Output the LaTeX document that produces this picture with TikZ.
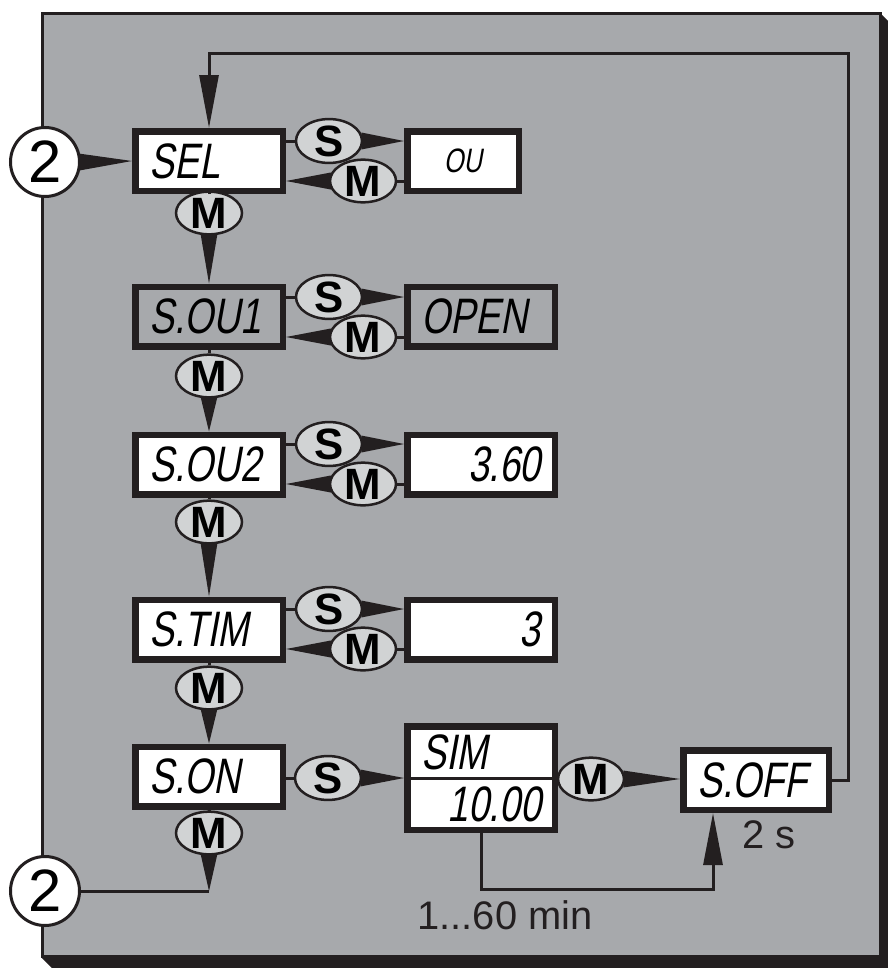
\documentclass[tikz,border=0pt]{standalone}
\usepackage{fontspec}
\setmainfont{Liberation Sans}
\newfontfamily\lcdfont[FakeStretch=0.75,FakeSlant=0.18]{Liberation Sans}
\usepackage{tikz}
\usetikzlibrary{arrows.meta,shapes.geometric,calc}
\definecolor{ink}{HTML}{231F20}
\definecolor{panel}{HTML}{A7A9AC}
\definecolor{keyfill}{HTML}{D1D3D4}

% wedge: base at first point, tip at second
\newcommand{\wedgeto}[2]{%
  \path ($(#1)!-2bp!(#2)$) coordinate (wb);
  \fill[ink] ($(wb)!8.5bp!90:(#2)$) -- (#2) -- ($(wb)!8.5bp!-90:(#2)$) -- cycle;}

\begin{document}
\begin{tikzpicture}[
  box/.style={draw=ink,line width=6.5bp,fill=white,minimum height=59.5bp,inner xsep=14bp,inner ysep=0pt,
    text width=119.5bp,align=left,font=\lcdfont\fontsize{50}{50}\selectfont},
  key/.style={ellipse,draw=ink,line width=2.5bp,fill=keyfill,minimum width=66bp,minimum height=41bp,
    inner sep=0pt,font=\bfseries\fontsize{44}{44}\selectfont},
  link/.style={draw=ink,line width=3bp},
  jump/.style={circle,draw=ink,line width=3bp,fill=white,minimum size=69bp,inner sep=0pt,
    font=\fontsize{60}{60}\selectfont},
  note/.style={font=\fontsize{40}{40}\selectfont,text=ink,inner sep=0pt},
  tip/.style={-{Triangle[length=#1,width=19bp]}},
]
\useasboundingbox (0bp,0bp) rectangle (888bp,-968bp);

% frame with shadow
\fill[ink] (42bp,-13bp) -- (880bp,-13bp) -- (888bp,-21bp) -- (888bp,-968bp) -- (52bp,-968bp) -- (42bp,-958bp) -- cycle;
\draw[ink,line width=3bp,fill=panel] (42bp,-13bp) rectangle (880bp,-956bp);

% left column
\node (SEL) at (209bp,-161bp) [box] {SEL};
\node (SOU1) at (209bp,-316.5bp) [box,fill=panel] {S.OU1};
\node (SOU2) at (209bp,-464.5bp) [box] {S.OU2};
\node (STIM) at (209bp,-629.5bp) [box] {S.TIM};
\node (SON) at (209bp,-776.5bp) [box] {S.ON};

% right column
\node (OU) at (463bp,-161bp) [box,text width=83.5bp,align=center,font=\lcdfont\fontsize{34}{34}\selectfont] {OU};
\node (OPEN) at (481bp,-316.5bp) [box,fill=panel] {OPEN};
\node (V360) at (481bp,-464.5bp) [box,align=right] {3.60};
\node (V3) at (481bp,-629.5bp) [box,align=right] {3};
\node (SIM) at (481bp,-778bp) [box,minimum height=103.5bp] {};
\draw[ink,line width=3bp] (SIM.west) -- (SIM.east);
\node (SIMa) at (421bp,-769bp) [anchor=base west,inner sep=0pt,font=\lcdfont\fontsize{50}{50}\selectfont] {SIM};
\node (SIMb) at (541bp,-821bp) [anchor=base east,inner sep=0pt,font=\lcdfont\fontsize{50}{50}\selectfont] {10.00};
\node (SOFF) at (756bp,-780bp) [box,text width=117.5bp] {S.OFF};

% step marks
\node (C2a) at (45bp,-162bp) [jump] {2};
\node (C2b) at (45bp,-891bp) [jump] {2};
\wedgeto{C2a.east}{SEL.west}

% S and M keys between the columns
\node (kS1) at (329bp,-141bp) [key] {S};
\node (kM1) at (363bp,-181bp) [key] {M};
\node (kS2) at (329bp,-297bp) [key] {S};
\node (kM2) at (363bp,-337bp) [key] {M};
\node (kS3) at (329bp,-444bp) [key] {S};
\node (kM3) at (363bp,-484bp) [key] {M};
\node (kS4) at (329bp,-609bp) [key] {S};
\node (kM4) at (363bp,-649bp) [key] {M};
\node (kS5) at (328bp,-778bp) [key] {S};
\node (kM5) at (591bp,-779bp) [key] {M};

\draw[link] (SEL.east |- kS1) -- (kS1);
\draw[link] (OU.west |- kM1) -- (kM1);
\wedgeto{kS1.east}{OU.west |- kS1.east}
\wedgeto{kM1.west}{SEL.east |- kM1.west}
\draw[link] (SOU1.east |- kS2) -- (kS2);
\draw[link] (OPEN.west |- kM2) -- (kM2);
\wedgeto{kS2.east}{OPEN.west |- kS2.east}
\wedgeto{kM2.west}{SOU1.east |- kM2.west}
\draw[link] (SOU2.east |- kS3) -- (kS3);
\draw[link] (V360.west |- kM3) -- (kM3);
\wedgeto{kS3.east}{V360.west |- kS3.east}
\wedgeto{kM3.west}{SOU2.east |- kM3.west}
\draw[link] (STIM.east |- kS4) -- (kS4);
\draw[link] (V3.west |- kM4) -- (kM4);
\wedgeto{kS4.east}{V3.west |- kS4.east}
\wedgeto{kM4.west}{STIM.east |- kM4.west}
\draw[link] (SON.east |- kS5) -- (kS5);
\wedgeto{kS5.east}{SIM.west |- kS5.east}
\draw[link] (SIM.east |- kM5) -- (kM5);
\wedgeto{kM5.east}{SOFF.west |- kM5.east}

% M keys down the left column
\node (kD1) at (209bp,-213bp) [key] {M};
\node (kD2) at (209bp,-376bp) [key] {M};
\node (kD3) at (209bp,-522bp) [key] {M};
\node (kD4) at (209bp,-688bp) [key] {M};
\node (kD5) at (209bp,-833bp) [key] {M};
\draw[link] (SEL) -- (kD1);
\draw[link] (SOU1) -- (kD2);
\draw[link] (SOU2) -- (kD3);
\draw[link] (STIM) -- (kD4);
\draw[link] (SON) -- (kD5);
\wedgeto{kD1.south}{SOU1.north}
\wedgeto{kD2.south}{SOU2.north}
\wedgeto{kD3.south}{STIM.north}
\wedgeto{kD4.south}{SON.north}
\coordinate (back) at (209bp,-891bp);
\wedgeto{kD5.south}{back}
\draw[link] (back) -- (C2b);

% loop back and timer
\coordinate (top) at (848bp,-53bp);
\draw[link,tip=53bp] (SOFF.east) -| (top) -| (SEL.north);
\coordinate (t1) at (713bp,-889bp);
\draw[link,tip=52bp] (SIM.south) |- (t1) -- (t1 |- SOFF.south);
\node (tmin) at (505bp,-915bp) [note] {1...60 min};
\node (tsec) at (769bp,-835bp) [note] {2 s};
\end{tikzpicture}
\end{document}
